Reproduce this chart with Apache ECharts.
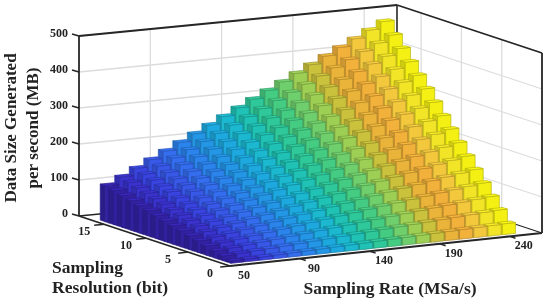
<!DOCTYPE html>
<html><head><meta charset="utf-8">
<style>html,body{margin:0;padding:0;background:#fff}#c{width:550px;height:303px}</style>
<script src="https://cdn.jsdelivr.net/npm/echarts@6/dist/echarts.min.js"></script>
</head><body><div id="c"></div>
<script>
// ---- data ----
const rateTicks = ['50','90','140','190','240'];
const resTicks = ['0','5','10','15'];
const sizeTicks = [0,100,200,300,400,500];
const res1  = [6.25,7.5,8.75,10,11.25,12.5,13.75,15,16.25,17.5,18.75,20,21.25,22.5,23.75,25,26.25,27.5,28.75,30];
const res2  = [12.5,15,17.5,20,22.5,25,27.5,30,32.5,35,37.5,40,42.5,45,47.5,50,52.5,55,57.5,60];
const res3  = [18.75,22.5,26.25,30,33.75,37.5,41.25,45,48.75,52.5,56.25,60,63.75,67.5,71.25,75,78.75,82.5,86.25,90];
const res4  = [25,30,35,40,45,50,55,60,65,70,75,80,85,90,95,100,105,110,115,120];
const res5  = [31.25,37.5,43.75,50,56.25,62.5,68.75,75,81.25,87.5,93.75,100,106.25,112.5,118.75,125,131.25,137.5,143.75,150];
const res6  = [37.5,45,52.5,60,67.5,75,82.5,90,97.5,105,112.5,120,127.5,135,142.5,150,157.5,165,172.5,180];
const res7  = [43.75,52.5,61.25,70,78.75,87.5,96.25,105,113.75,122.5,131.25,140,148.75,157.5,166.25,175,183.75,192.5,201.25,210];
const res8  = [50,60,70,80,90,100,110,120,130,140,150,160,170,180,190,200,210,220,230,240];
const res9  = [56.25,67.5,78.75,90,101.25,112.5,123.75,135,146.25,157.5,168.75,180,191.25,202.5,213.75,225,236.25,247.5,258.75,270];
const res10 = [62.5,75,87.5,100,112.5,125,137.5,150,162.5,175,187.5,200,212.5,225,237.5,250,262.5,275,287.5,300];
const res11 = [68.75,82.5,96.25,110,123.75,137.5,151.25,165,178.75,192.5,206.25,220,233.75,247.5,261.25,275,288.75,302.5,316.25,330];
const res12 = [75,90,105,120,135,150,165,180,195,210,225,240,255,270,285,300,315,330,345,360];
const res13 = [81.25,97.5,113.75,130,146.25,162.5,178.75,195,211.25,227.5,243.75,260,276.25,292.5,308.75,325,341.25,357.5,373.75,390];
const res14 = [87.5,105,122.5,140,157.5,175,192.5,210,227.5,245,262.5,280,297.5,315,332.5,350,367.5,385,402.5,420];
const res15 = [93.75,112.5,131.25,150,168.75,187.5,206.25,225,243.75,262.5,281.25,300,318.75,337.5,356.25,375,393.75,412.5,431.25,450];
const res16 = [100,120,140,160,180,200,220,240,260,280,300,320,340,360,380,400,420,440,460,480];
const rows = [res1,res2,res3,res4,res5,res6,res7,res8,res9,res10,res11,res12,res13,res14,res15,res16];

// ---- styles / layout ----
const columnColors = ['#3b28c0','#3c34d6','#3b46e8','#3a5cf2','#3672f8','#2d88f6','#259cf0','#1eb0e8','#1cc0d8','#20cabc',
  '#30d0a0','#48d488','#74d870','#a4d858','#d2ca3e','#f4bc3c','#fcb83c','#fdd040','#fcee28','#fefa14'];
const FONT = '"Liberation Serif", serif';
const F={x:230,y:266}, R={x:542,y:233}, L={x:79,y:216}, B={x:397,y:185};
const UMAX=22.3, VMAX=18, ZMAX=500, ZPX=180, BARU=0.47, BARV=0.3;

function P(u,v,z){
  const a=u/UMAX,b=v/VMAX;
  const x=F.x+a*(R.x-F.x)+b*(L.x-F.x)+a*b*(B.x-R.x-L.x+F.x);
  const y=F.y+a*(R.y-F.y)+b*(L.y-F.y)+a*b*(B.y-R.y-L.y+F.y);
  return [x,y-(z/ZMAX)*ZPX];
}
function shade(hex,k){
  const c=echarts.color.parse(hex);
  return 'rgb('+[0,1,2].map(i=>Math.round(c[i]*k)).join(',')+')';
}
const barData=[];
for(let v=rows.length;v>=1;v--){
  for(let u=rows[v-1].length;u>=1;u--){ barData.push([u,v,rows[v-1][u-1]]); }
}
function line(api,a,b,stroke,w){
  const p=api.coord(a),q=api.coord(b);
  return {type:'line',shape:{x1:p[0],y1:p[1],x2:q[0],y2:q[1]},style:{stroke:stroke,lineWidth:w,fill:null}};
}
function label(api,at,text,dx,dy,align){
  const p=api.coord(at);
  return {type:'text',x:p[0]+dx,y:p[1]+dy,style:{text:text,fill:'#222',font:'bold 12px '+FONT,align:align||'center',verticalAlign:'middle'}};
}
const GRID='#dcdcdc', AX='#262626';
function renderBack(params,api){
  const ch=[];
  rateTicks.forEach((t,i)=>{const u=i*5; if(i>0) ch.push(line(api,P(u,VMAX,0),P(u,VMAX,ZMAX),GRID,1.3));
    ch.push(line(api,P(u,0,0),P(u,VMAX,0),GRID,1));});
  resTicks.forEach((t,i)=>{const v=i*5; ch.push(line(api,P(UMAX,v,0),P(UMAX,v,ZMAX),GRID,1.3));
    ch.push(line(api,P(0,v,0),P(UMAX,v,0),GRID,1));});
  sizeTicks.forEach(z=>{ if(z>0){ ch.push(line(api,P(0,VMAX,z),P(UMAX,VMAX,z),GRID,1.3));
    ch.push(line(api,P(UMAX,VMAX,z),P(UMAX,0,z),GRID,1.3)); }});
  ch.push(line(api,P(UMAX,VMAX,0),P(UMAX,VMAX,ZMAX),AX,1.6));
  ch.push(line(api,P(0,VMAX,0),P(UMAX,VMAX,0),AX,1.3));
  ch.push(line(api,P(UMAX,VMAX,0),P(UMAX,0,0),AX,1.3));
  return {type:'group',children:ch};
}
function renderBar(params,api){
  const u=api.value(0),v=api.value(1),z=api.value(2),c=columnColors[u-1];
  const U=0.96+1.02*(u-1);
  const a=U-BARU,b=U+BARU,m=v-BARV,n=v+BARV;
  const kFront=u===1?0.84:0.96, kSide=u===1?0.72:0.82;
  const poly=(pts,fill,stroke)=>({type:'polygon',shape:{points:pts.map(p=>api.coord(p))},
    style:{fill:fill,stroke:stroke||shade(c,0.72),lineWidth:0.7}});
  const ch=[];
  // shadowed floor in the slot between two rows, keeps the first column's foot a clean edge
  if(v<rows.length) ch.push(poly([P(a,n,0),P(b,n,0),P(b,n+1-2*BARV,0),P(a,n+1-2*BARV,0)],shade(c,0.7),shade(c,0.7)));
  ch.push(poly([P(a,m,0),P(a,n,0),P(a,n,z),P(a,m,z)],shade(c,kSide)));
  ch.push(poly([P(a,m,0),P(b,m,0),P(b,m,z),P(a,m,z)],shade(c,kFront)));
  ch.push(poly([P(a,m,z),P(b,m,z),P(b,n,z),P(a,n,z)],c));
  return {type:'group',children:ch};
}
function renderFront(params,api){
  const ch=[];
  ch.push(line(api,P(0,VMAX,0),P(0,VMAX,ZMAX),AX,1.8));
  ch.push(line(api,P(0,VMAX,ZMAX),P(UMAX,VMAX,ZMAX),AX,1.8));
  ch.push(line(api,P(UMAX,VMAX,ZMAX),P(UMAX,0,ZMAX),AX,1.8));
  ch.push(line(api,P(UMAX,0,0),P(UMAX,0,ZMAX),AX,1.8));
  ch.push(line(api,P(0,0,0),P(UMAX,0,0),AX,1.8));
  ch.push(line(api,P(0,0,0),P(0,VMAX,0),AX,1.8));
  sizeTicks.forEach(z=>{
    const p=P(0,VMAX,z);
    ch.push(line(api,p,[p[0]-7,p[1]-2],AX,1.6));
    ch.push(label(api,p,String(z),-11,-2,'right'));
  });
  rateTicks.forEach((t,i)=>{
    const u=i*5,p=P(u,0,0),q=P(u,-0.7,0);
    if(i>0) ch.push(line(api,p,q,AX,1.5));
    ch.push(label(api,p,t,14,10));
  });
  resTicks.forEach((t,i)=>{
    const v=i*5,p=P(0,v,0),q=P(-0.7,v,0);
    ch.push(line(api,p,q,AX,1.5));
    ch.push(label(api,p,t,-20,8));
  });
  return {type:'group',children:ch};
}
const chart=echarts.init(document.getElementById('c'),null,{renderer:'canvas'});
const TITLE='bold 17.5px '+FONT;
chart.setOption({
  animation:false,
  backgroundColor:'#fff',
  grid:{left:0,right:0,top:0,bottom:0},
  xAxis:{type:'value',min:0,max:550,show:false},
  yAxis:{type:'value',min:0,max:303,inverse:true,show:false},
  series:[
    {type:'custom',renderItem:renderBack,data:[[0,0]],silent:true,clip:false,z:1},
    {type:'custom',renderItem:renderBar,data:barData,encode:{x:0,y:1},silent:true,clip:false,z:2},
    {type:'custom',renderItem:renderFront,data:[[0,0]],silent:true,clip:false,z:3}
  ],
  graphic:[
    {type:'text',rotation:Math.PI/2,x:12,y:128,style:{text:'Data Size Generated',font:'bold 17px '+FONT,fill:'#222',align:'center',verticalAlign:'middle'}},
    {type:'text',rotation:Math.PI/2,x:34,y:128,style:{text:'per second (MB)',font:'bold 17px '+FONT,fill:'#222',align:'center',verticalAlign:'middle'}},
    {type:'text',x:52,y:268,style:{text:'Sampling',font:TITLE,fill:'#222',align:'left',verticalAlign:'middle'}},
    {type:'text',x:52,y:288,style:{text:'Resolution (bit)',font:TITLE,fill:'#222',align:'left',verticalAlign:'middle'}},
    {type:'text',x:390,y:289,style:{text:'Sampling Rate (MSa/s)',font:TITLE,fill:'#222',align:'center',verticalAlign:'middle'}}
  ]
});
</script></body></html>
